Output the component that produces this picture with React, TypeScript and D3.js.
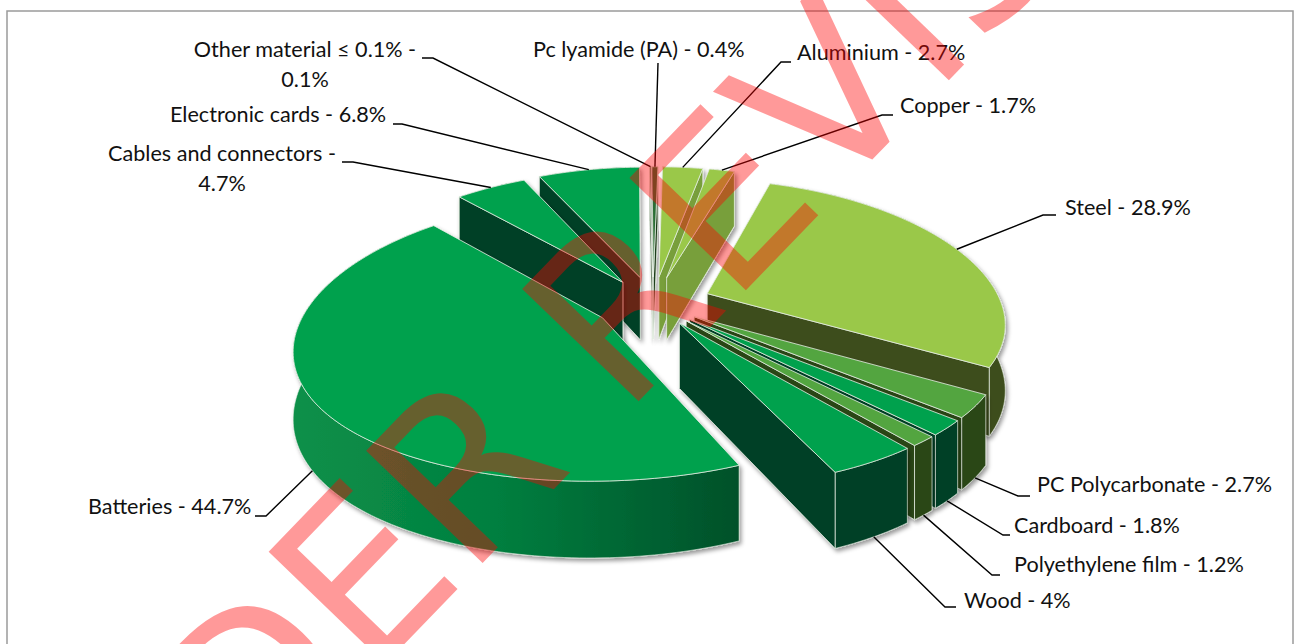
import React from 'react';
import * as d3 from 'd3';

const materials = ['Steel', 'PC Polycarbonate', 'Cardboard', 'Polyethylene film', 'Wood', 'Batteries', 'Cables and connectors', 'Electronic cards', 'Other material ≤ 0.1%', 'Pc lyamide (PA)', 'Aluminium', 'Copper'];
const shares = [28.9, 2.7, 1.8, 1.2, 4, 44.7, 4.7, 6.8, 0.1, 0.4, 2.7, 1.7];
const explode = [0.2, 0.17, 0.17, 0.17, 0.17, 0.2, 0.19, 0.2, 0.2, 0.2, 0.2, 0.2];

const topColors = ['#9AC84A', '#52A540', '#00A14E', '#52A540', '#00A14E', '#00A14E', '#00A14E', '#00A14E', '#1F5C2E', '#2C6E35', '#9AC84A', '#9AC84A'];
const wallColors = ['#3E4E1B', '#2A4719', '#004025', '#2A4719', '#004025', 'url(#battWall)', '#004025', '#004025', '#1F3D1A', '#1F3D1A', '#789F3A', '#789F3A'];

// label text position: [x, first baseline, anchor], leader: label end, elbow
const labelPos: [number, number, string][] = [
  [1065, 215, 'start'], [1037, 492, 'start'], [1014, 533, 'start'], [1014, 572, 'start'], [964, 608, 'start'], [88, 514, 'start'],
  [222, 161, 'middle'], [170, 122, 'start'], [305, 57, 'middle'], [533, 57, 'start'], [797, 60, 'start'], [900, 113, 'start'],
];
const leaderEnds: [number, number][][] = [
  [[1056, 215], [1043, 215]], [[1030, 496], [1018, 496]], [[1010, 535], [1003, 535]], [[1000, 575], [992, 575]], [[956, 607], [945, 607]], [[255, 516], [266, 516]],
  [[342, 162], [353, 162]], [[393, 124], [402, 124]], [[422, 58], [433, 58]], [[658, 63], [658, 63]], [[791, 62], [781, 62]], [[893, 115], [882, 115]],
];
const wrapped: Record<number, string[]> = {
  6: ['Cables and connectors -', '4.7%'],
  8: ['Other material ≤ 0.1% -', '0.1%'],
};

const W = 1294;
const H = 644;
const cx = 653;
const cy = 303;
const scaleX = 294;
const scaleY = 134;
const perspX = 0.2;
const perspY = 0.15;
const depth = 64;
const startAngle = (17 * Math.PI) / 180;

const project = (X: number, Y: number, z = 0): [number, number] => {
  const wx = 1 + perspX * Y;
  const wy = 1 + perspY * Y;
  return [cx + (scaleX * X) / wx, cy - (scaleY * Y) / wy + (z * depth) / wy];
};

const pieGen = d3.pie<number>().sort(null).startAngle(startAngle).endAngle(startAngle + 2 * Math.PI);
const arcs = pieGen(shares);
const line = d3.line();

const slices = arcs.map((a, i) => {
  const mid = (a.startAngle + a.endAngle) / 2;
  const ox = explode[i] * Math.sin(mid);
  const oy = explode[i] * Math.cos(mid);
  const rimAt = (t: number, z = 0) => project(ox + Math.sin(t), oy + Math.cos(t), z);
  const n = Math.max(2, Math.ceil((a.endAngle - a.startAngle) / 0.02));
  const ts = d3.range(n + 1).map(k => a.startAngle + ((a.endAngle - a.startAngle) * k) / n);
  const top = ts.map(t => rimAt(t));
  const bottom = ts.map(t => rimAt(t, 1));
  const apexTop = project(ox, oy);
  const apexBottom = project(ox, oy, 1);
  const startWall = [apexTop, top[0], bottom[0], apexBottom];
  const endWall = [apexTop, top[n], bottom[n], apexBottom];
  return {
    i, mid, top, bottom, apexTop, startWall, endWall,
    // d3.polygonArea sign is flipped in screen coordinates
    showStart: d3.polygonArea(startWall) > 0,
    showEnd: d3.polygonArea(endWall) < 0,
    anchor: rimAt(mid, Math.cos(mid) < 0 ? 1 : 0),
    depthKey: Math.cos(mid),
  };
});
const drawOrder = [...slices].sort((a, b) => d3.descending(a.depthKey, b.depthKey));

const edge = '#E4EDE2';

export default function App() {
  return (
    <svg width={W} height={H} viewBox={`0 0 ${W} ${H}`} style={{ position: 'absolute', left: 0, top: 0, display: 'block', background: '#fff' }}>
      <defs>
        <linearGradient id="battWall" gradientUnits="userSpaceOnUse" x1={293} y1={0} x2={747} y2={0}>
          <stop offset="0" stopColor="#0A9049" />
          <stop offset="0.45" stopColor="#037F3F" />
          <stop offset="1" stopColor="#004F29" />
        </linearGradient>
        <filter id="pieShadow" x="-10%" y="-10%" width="120%" height="120%">
          <feDropShadow dx="2" dy="3" stdDeviation="2" floodColor="#000" floodOpacity="0.4" />
        </filter>
      </defs>

      <rect x={7} y={11} width={W - 8} height={H} fill="#fff" stroke="#9A9A9A" strokeWidth={1.5} />

      {drawOrder.map(s => (
        <g key={s.i} filter="url(#pieShadow)">
          <path d={line([...s.top, ...[...s.bottom].reverse()]) + 'Z'} fill={wallColors[s.i]} stroke={edge} strokeWidth={0.6} />
          {s.showStart && <path d={line(s.startWall) + 'Z'} fill={wallColors[s.i]} stroke={edge} strokeWidth={0.8} />}
          {s.showEnd && <path d={line(s.endWall) + 'Z'} fill={wallColors[s.i]} stroke={edge} strokeWidth={0.8} />}
          <path d={line([s.apexTop, ...s.top]) + 'Z'} fill={topColors[s.i]} stroke={edge} strokeWidth={0.8} />
        </g>
      ))}

      <g fill="none" stroke="#000" strokeWidth={1.4}>
        {slices.map(s => (
          <path key={s.i} d={line([...leaderEnds[s.i], s.anchor]) as string} />
        ))}
      </g>

      <g fontFamily="Lato, sans-serif" fontSize={21.6} fill="#111">
        {materials.map((name, i) => {
          const lines = wrapped[i] ?? [`${name} - ${shares[i]}%`];
          const [x, y, anchor] = labelPos[i];
          return (
            <text key={name} x={x} y={y} textAnchor={anchor}>
              {lines.map((t, k) => (
                <tspan key={k} x={x} dy={k ? 30 : 0}>{t}</tspan>
              ))}
            </text>
          );
        })}
      </g>

      <text transform="translate(23,1039) rotate(-46)" fontFamily="DejaVu Sans, sans-serif" fontSize={222} fill="#FF0000" fillOpacity={0.4}>
        UNDER REVISION
      </text>
    </svg>
  );
}
